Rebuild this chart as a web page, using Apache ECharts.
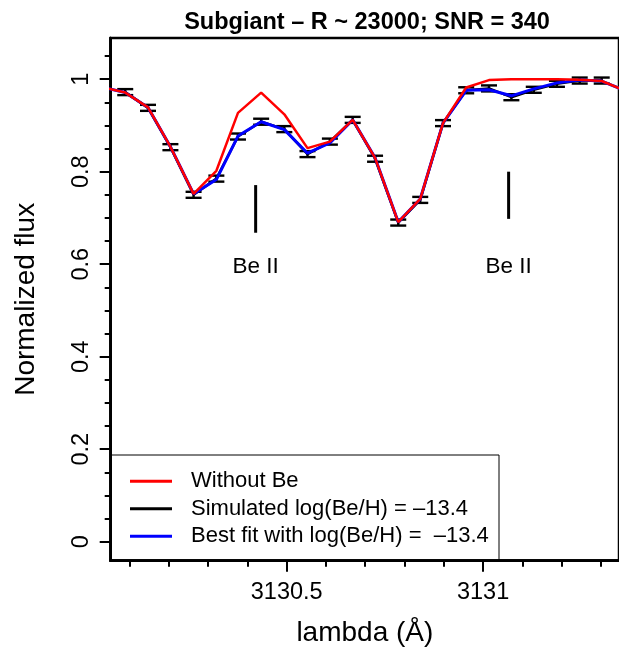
<!DOCTYPE html>
<html>
<head>
<meta charset="utf-8">
<script src="https://cdn.jsdelivr.net/npm/echarts@6/dist/echarts.min.js"></script>
<style>
html,body{margin:0;padding:0;background:#fff;}
#chart{width:619px;height:653px;}
</style>
</head>
<body>
<div id="chart"></div>
<script>
// ---- data ----
const lambdas = [3130.089, 3130.147, 3130.204, 3130.263, 3130.321, 3130.376, 3130.435, 3130.494, 3130.553, 3130.610, 3130.668,
                 3130.725, 3130.784, 3130.840, 3130.898, 3130.957, 3131.015, 3131.072, 3131.129, 3131.188, 3131.246, 3131.302];
const observed = [0.972, 0.938, 0.853, 0.750, 0.785, 0.876, 0.908, 0.892, 0.838, 0.865, 0.912,
                  0.828, 0.690, 0.739, 0.905, 0.976, 0.980, 0.961, 0.977, 0.990, 0.997, 0.997];
const obsError = [0.0065, 0.0065, 0.0065, 0.0065, 0.0065, 0.0065, 0.0065, 0.0065, 0.0065, 0.0065, 0.0065,
                  0.0065, 0.0065, 0.0065, 0.0065, 0.0065, 0.0065, 0.0065, 0.0065, 0.0065, 0.0065, 0.0065];
const modelLambdas = [3130.030, 3130.089, 3130.147, 3130.204, 3130.263, 3130.321, 3130.376, 3130.435, 3130.494, 3130.553, 3130.610, 3130.668,
                      3130.725, 3130.784, 3130.840, 3130.898, 3130.957, 3131.015, 3131.072, 3131.129, 3131.188, 3131.246, 3131.302, 3131.360];
const withoutBe = [0.983, 0.971, 0.939, 0.854, 0.752, 0.802, 0.927, 0.971, 0.924, 0.851, 0.865, 0.912,
                   0.830, 0.691, 0.741, 0.905, 0.982, 0.998, 1.000, 1.000, 1.000, 0.999, 0.996, 0.976];
const bestFit = [0.983, 0.971, 0.939, 0.854, 0.752, 0.783, 0.877, 0.908, 0.891, 0.840, 0.862, 0.912,
                 0.830, 0.691, 0.741, 0.905, 0.976, 0.977, 0.964, 0.979, 0.992, 0.998, 0.996, 0.976];
const lineLambdas = [3130.421, 3131.065];
const lineTop = [0.771, 0.800];
const lineBottom = [0.668, 0.698];
const lineLabelY = [0.594, 0.594];
const lineLabels = ['Be II', 'Be II'];
const xMajorTicks = [3130.5, 3131];
const xMinorTicks = [3130.1, 3130.2, 3130.3, 3130.4, 3130.5, 3130.6, 3130.7, 3130.8, 3130.9, 3131.0, 3131.1, 3131.2, 3131.3];
const yMajorTicks = [0, 0.2, 0.4, 0.6, 0.8, 1];
const yMinorTicks = [0, 0.05, 0.1, 0.15, 0.2, 0.25, 0.3, 0.35, 0.4, 0.45, 0.5, 0.55, 0.6, 0.65, 0.7, 0.75, 0.8, 0.85, 0.9, 0.95, 1, 1.05];
const seriesNames = ['Without Be', 'Simulated log(Be/H) = \u201313.4', 'Best fit with log(Be/H) =  \u201313.4'];
const titleText = 'Subgiant \u2013 R ~ 23000; SNR = 340';

// ---- chart ----
const FONT = '"Liberation Sans", Arial, Helvetica, sans-serif';
const X_MIN = 3130.052, X_MAX = 3131.346, Y_MIN = -0.041, Y_MAX = 1.089;
const chart = echarts.init(document.getElementById('chart'), null, {renderer: 'canvas'});

const obsPairs = lambdas.map((l, i) => [l, observed[i]]);
const errData = lambdas.map((l, i) => [l, observed[i], obsError[i]]);
const redPairs = modelLambdas.map((l, i) => [l, withoutBe[i]]);
const bluePairs = modelLambdas.map((l, i) => [l, bestFit[i]]);
const markData = lineLambdas.map((l, i) => [l, lineTop[i], lineBottom[i]]);
const labelData = lineLambdas.map((l, i) => [l, lineLabelY[i], i]);

const xBase = {
  type: 'value', min: X_MIN, max: X_MAX, position: 'bottom',
  axisLine: {show: true, onZero: false, lineStyle: {color: '#000', width: 2.5}},
  splitLine: {show: false}
};
const yBase = {
  type: 'value', min: Y_MIN, max: Y_MAX, position: 'left',
  axisLine: {show: true, onZero: false, lineStyle: {color: '#000', width: 2.5}},
  splitLine: {show: false}
};

const option = {
  animation: false,
  backgroundColor: '#fff',
  title: {
    text: titleText, left: 362, top: 6, textAlign: 'center',
    textStyle: {fontFamily: FONT, fontSize: 23.5, fontWeight: 'bold', color: '#000'}
  },
  grid: {left: 110.7, top: 38, right: -1.5, bottom: 92.3, show: true, borderColor: '#000', borderWidth: 2.5, backgroundColor: 'transparent'},
  legend: {
    orient: 'vertical', left: 130, top: 467.5, padding: 0, itemGap: 0,
    itemWidth: 42, itemHeight: 3, icon: 'rect',
    data: seriesNames,
    selectedMode: false,
    textStyle: {fontFamily: FONT, fontSize: 22, color: '#000', lineHeight: 27.5, padding: [0, 0, 0, 14]}
  },
  graphic: [{
    type: 'rect', shape: {x: 110.7, y: 455, width: 388.3, height: 105.5},
    style: {fill: 'none', stroke: '#000', lineWidth: 1}, z: 1
  }],
  xAxis: [
    Object.assign({}, xBase, {
      name: 'lambda (\u00c5)', nameLocation: 'middle', nameGap: 59,
      nameTextStyle: {fontFamily: FONT, fontSize: 28, color: '#000'},
      axisTick: {show: true, length: 11, customValues: xMajorTicks, lineStyle: {color: '#000', width: 2}},
      axisLabel: {show: true, customValues: xMajorTicks, margin: 20, formatter: v => String(v),
                  fontFamily: FONT, fontSize: 23.5, color: '#000'}
    }),
    Object.assign({}, xBase, {
      axisTick: {show: true, length: 6, customValues: xMinorTicks, lineStyle: {color: '#000', width: 2}},
      axisLabel: {show: false}
    })
  ],
  yAxis: [
    Object.assign({}, yBase, {
      name: 'Normalized flux', nameLocation: 'middle', nameGap: 70, nameRotate: 90,
      nameTextStyle: {fontFamily: FONT, fontSize: 28, color: '#000'},
      axisTick: {show: true, length: 11, customValues: yMajorTicks, lineStyle: {color: '#000', width: 2}},
      axisLabel: {show: true, customValues: yMajorTicks, margin: 17, rotate: 90, formatter: v => String(v),
                  fontFamily: FONT, fontSize: 23.5, color: '#000'}
    }),
    Object.assign({}, yBase, {
      axisTick: {show: true, length: 6, customValues: yMinorTicks, lineStyle: {color: '#000', width: 2}},
      axisLabel: {show: false}
    })
  ],
  series: [
    {
      name: seriesNames[1], type: 'line', data: obsPairs, symbol: 'none', z: 2,
      lineStyle: {color: '#000', width: 2.5}, itemStyle: {color: '#000'}
    },
    {
      name: 'errbars', type: 'custom', data: errData, z: 3,
      renderItem: function (params, api) {
        const x = api.value(0), y = api.value(1), e = api.value(2);
        const t = api.coord([x, y + e]);
        const b = api.coord([x, y - e]);
        const hw = 8;
        const st = {stroke: '#000', lineWidth: 2.4};
        return {type: 'group', children: [
          {type: 'line', shape: {x1: t[0], y1: t[1], x2: b[0], y2: b[1]}, style: st},
          {type: 'line', shape: {x1: t[0] - hw, y1: t[1], x2: t[0] + hw, y2: t[1]}, style: st},
          {type: 'line', shape: {x1: b[0] - hw, y1: b[1], x2: b[0] + hw, y2: b[1]}, style: st}
        ]};
      }
    },
    {
      name: seriesNames[2], type: 'line', data: bluePairs, symbol: 'none', z: 4,
      lineStyle: {color: '#0000ff', width: 3}, itemStyle: {color: '#0000ff'}
    },
    {
      name: seriesNames[0], type: 'line', data: redPairs, symbol: 'none', z: 5,
      lineStyle: {color: '#ff0000', width: 2.5}, itemStyle: {color: '#ff0000'}
    },
    {
      name: 'marks', type: 'custom', data: markData, z: 3,
      renderItem: function (params, api) {
        const x = api.value(0);
        const t = api.coord([x, api.value(1)]);
        const b = api.coord([x, api.value(2)]);
        return {type: 'line', shape: {x1: t[0], y1: t[1], x2: b[0], y2: b[1]}, style: {stroke: '#000', lineWidth: 3}};
      }
    },
    {
      name: 'marklabels', type: 'custom', data: labelData, z: 3,
      renderItem: function (params, api) {
        const p = api.coord([api.value(0), api.value(1)]);
        return {type: 'text', x: p[0], y: p[1],
                style: {text: lineLabels[api.value(2)], fill: '#000', opacity: 1,
                        font: '22.5px ' + FONT, align: 'center', verticalAlign: 'middle'}};
      }
    }
  ]
};
chart.setOption(option);
</script>
</body>
</html>
